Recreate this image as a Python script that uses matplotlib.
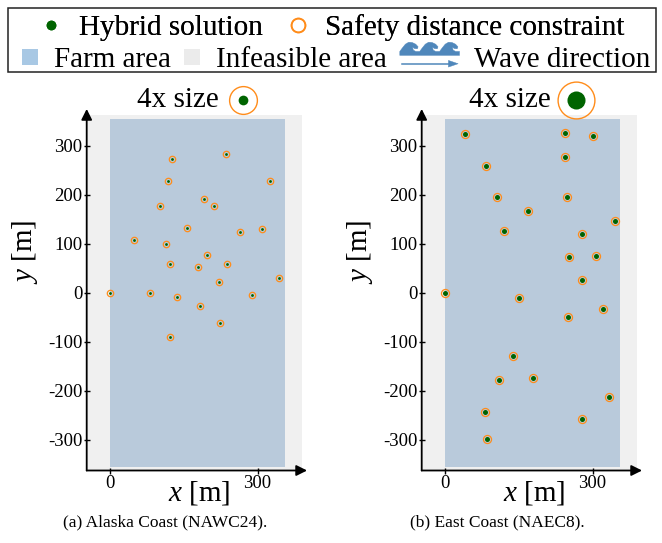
import numpy as np
import matplotlib
matplotlib.use("Agg")
import matplotlib.pyplot as plt
from matplotlib.patches import Rectangle, Polygon
from matplotlib.lines import Line2D
from matplotlib.legend_handler import HandlerBase

plt.rcParams['font.family'] = ['Liberation Serif', 'DejaVu Serif']
plt.rcParams['mathtext.fontset'] = 'custom'
plt.rcParams['mathtext.it'] = 'Liberation Serif:italic'
plt.rcParams['mathtext.rm'] = 'Liberation Serif'
plt.rcParams['axes.unicode_minus'] = False

# ---------------- data ----------------
alaska_x = [125, 235, 118, 326, 190, 212, 101, 156, 265, 310, 48, 114, 198,
            122, 238, 178, 222, 344, 0, 81, 288, 136, 183, 223, 122]
alaska_y = [274, 283, 228, 228, 191, 178, 178, 133, 125, 131, 107, 100, 78,
            58, 58, 52, 22, 31, 0, 0, -4, -9, -27, -61, -91]

east_x = [41, 243, 301, 243, 83, 105, 248, 168, 345, 120, 278, 252, 308,
          278, 0, 151, 322, 251, 137, 110, 178, 333, 81, 278, 85]
east_y = [324, 326, 320, 278, 259, 196, 196, 166, 147, 127, 121, 72, 75,
          27, 0, -10, -34, -50, -130, -179, -175, -213, -243, -258, -298]

farm_x = (0, 355)
farm_y = (-355, 355)
xlim = (-48, 390)
ylim = (-363, 363)
yticks = [-300, -200, -100, 0, 100, 200, 300]
xticks = [0, 300]
captions = ["(a) Alaska Coast (NAWC24).", "(b) East Coast (NAEC8)."]
legend_row1 = ["Hybrid solution", "Safety distance constraint"]
legend_row2 = ["Farm area", "Infeasible area", "Wave direction"]

GREEN = '#006400'
ORANGE = '#ff8c1a'
FARM = '#b9cadb'
FARM_LEG = '#a8c8e4'
GRAY = '#f0f0f0'
GRAY_LEG = '#ebebeb'
WAVE = '#4f87bb'

W, H = 662, 543
fig = plt.figure(figsize=(W / 100, H / 100), dpi=100)


def fx(px):
    return px / W


def fy(py):
    return 1 - py / H


panels = [
    dict(x=alaska_x, y=alaska_y, left=86.7, ms_ring=4.6, ms_dot=2.0,
         title_x=177.5, mark_x=242.7, t_ring=20, t_dot=7, cap_x=165),
    dict(x=east_x, y=east_y, left=421.7, ms_ring=5.8, ms_dot=3.6,
         title_x=510, mark_x=575.7, t_ring=26.5, t_dot=13, cap_x=497),
]

top_px, bot_px = 115.0, 470.5
for i, p in enumerate(panels):
    ax = fig.add_axes([fx(p['left']), fy(bot_px), 215 / W, (bot_px - top_px) / H])
    ax.set_facecolor(GRAY)
    ax.add_patch(Rectangle((farm_x[0], farm_y[0]), farm_x[1] - farm_x[0],
                           farm_y[1] - farm_y[0], color=FARM, lw=0, zorder=0.5))
    ax.plot(p['x'], p['y'], 'o', ls='', mfc='none', mec=ORANGE,
            ms=p['ms_ring'], mew=0.9, zorder=3)
    ax.plot(p['x'], p['y'], 'o', ls='', color=GREEN, ms=p['ms_dot'],
            mew=0, zorder=4)
    ax.set_xlim(*xlim)
    ax.set_ylim(*ylim)
    ax.set_xticks(xticks)
    ax.set_yticks(yticks)
    for s in ax.spines.values():
        s.set_visible(False)
    ax.tick_params(direction='inout', length=4, width=1, labelsize=13.5,
                   pad=1)
    ax.annotate('', xy=(0, 1.017), xytext=(0, 0), xycoords='axes fraction',
                arrowprops=dict(arrowstyle='-|>', lw=1.3, color='k',
                                mutation_scale=16, shrinkA=0, shrinkB=0))
    ax.annotate('', xy=(1.025, 0), xytext=(0, 0), xycoords='axes fraction',
                arrowprops=dict(arrowstyle='-|>', lw=1.3, color='k',
                                mutation_scale=16, shrinkA=0, shrinkB=0))
    ax.set_xlabel('$x$ [m]', fontsize=21, va='center')
    ax.xaxis.set_label_coords(0.525, -0.062)
    ax.set_ylabel('$y$ [m]', fontsize=21, va='center', ha='center')
    ax.yaxis.set_label_coords(-0.287, 0.615)
    # title with 4x marker
    fig.text(fx(p['title_x']), fy(100), '4x size', fontsize=21,
             ha='center', va='center')
    fig.add_artist(Line2D([fx(p['mark_x'])], [fy(100)], transform=fig.transFigure,
                          marker='o', ls='', mfc='none', mec=ORANGE,
                          ms=p['t_ring'], mew=1.0))
    fig.add_artist(Line2D([fx(p['mark_x'])], [fy(100)], transform=fig.transFigure,
                          marker='o', ls='', color=GREEN, ms=p['t_dot'], mew=0))
    fig.text(fx(p['cap_x']), fy(522), captions[i], fontsize=12.5, ha='center',
             va='center')


# ---------------- legend ----------------
class WaveHandle:
    pass


class WaveHandler(HandlerBase):
    def legend_artist(self, legend, orig_handle, fontsize, handlebox):
        w = 43.0
        handlebox.width = w
        cw = w / 3.0
        base, hh = 8.5, 9.5
        u = [0.0, 0.12, 0.28, 0.45, 0.62, 0.8, 0.92, 0.88, 0.74, 0.64, 0.68, 0.8, 1.0]
        v = [0.3, 0.55, 0.85, 1.0, 0.98, 0.85, 0.65, 0.5, 0.52, 0.62, 0.4, 0.3, 0.3]
        pts = []
        for k in range(3):
            for a, b in zip(u, v):
                pts.append((k * cw + a * cw, base + b * hh))
        pts.append((w, base))
        pts.append((0, base))
        poly = Polygon(pts, closed=True, fc=WAVE, ec=WAVE, lw=0.3)
        handlebox.add_artist(poly)
        ya = 2.5
        line = Line2D([1.5, w - 5], [ya, ya], color=WAVE, lw=1.1)
        head = Polygon([(w - 8, ya + 2.4), (w - 1, ya), (w - 8, ya - 2.4)],
                       closed=True, fc=WAVE, ec=WAVE, lw=0.3)
        handlebox.add_artist(line)
        handlebox.add_artist(head)
        return poly


h1 = [Line2D([], [], marker='o', ls='', color=GREEN, ms=7, mew=0),
      Line2D([], [], marker='o', ls='', mfc='none', mec=ORANGE, ms=10, mew=1.2)]
leg1 = fig.legend(h1, legend_row1, loc='center', bbox_to_anchor=(fx(332), fy(28)),
                  ncol=2, frameon=False, fontsize=21, handlelength=0.8,
                  handletextpad=0.55, columnspacing=0.8, borderpad=0,
                  borderaxespad=0)

wave = WaveHandle()
h2 = [Line2D([], [], marker='s', ls='', color=FARM_LEG, ms=12, mew=0),
      Line2D([], [], marker='s', ls='', color=GRAY_LEG, ms=12, mew=0),
      wave]
leg2 = fig.legend(h2, legend_row2, loc='center', bbox_to_anchor=(fx(336), fy(60)),
                  ncol=3, frameon=False, fontsize=21, handlelength=0.6,
                  handletextpad=0.5, columnspacing=0.45, borderpad=0,
                  borderaxespad=0, handler_map={WaveHandle: WaveHandler()})
fig.add_artist(leg1)

fig.add_artist(Rectangle((fx(8), fy(72)), 648 / W, 64 / H, transform=fig.transFigure,
                         fill=False, ec='#222222', lw=1.1))

fig.savefig('out.png', dpi=100)
